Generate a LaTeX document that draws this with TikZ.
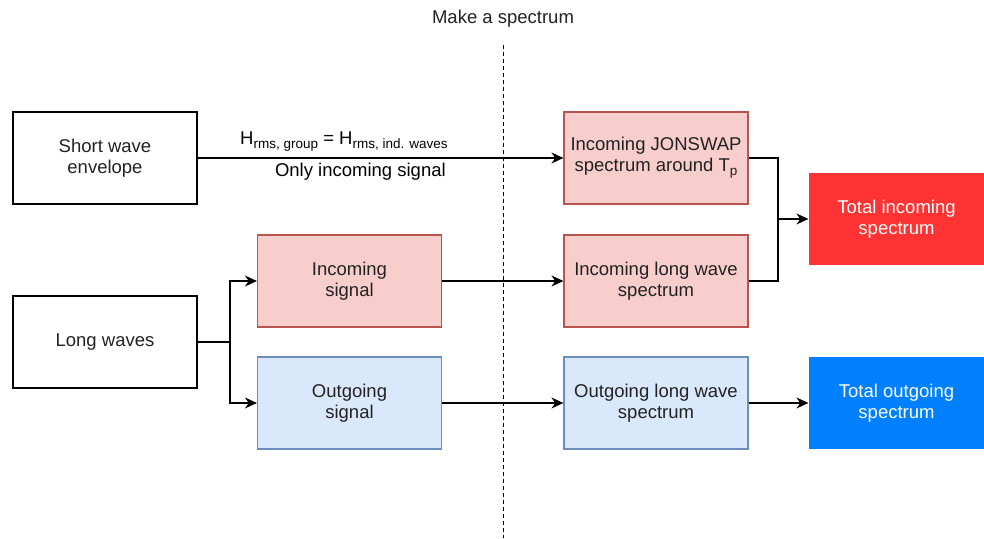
\documentclass[tikz,border=0pt]{standalone}
\usepackage{fontspec}
\setmainfont{Liberation Sans}
\usetikzlibrary{arrows.meta}
\definecolor{pinkfill}{HTML}{F8CECC}
\definecolor{pinkline}{HTML}{B85450}
\definecolor{bluefill}{HTML}{DAE8FC}
\definecolor{blueline}{HTML}{6C8EBF}
\definecolor{redbox}{HTML}{FF3333}
\definecolor{bluebox}{HTML}{007FFF}
\definecolor{txt}{HTML}{222222}
\newcommand{\mysub}[1]{\raisebox{-4pt}{\fontsize{13.5}{14}\selectfont #1}}
\begin{document}
\begin{tikzpicture}[x=1pt,y=-1pt,
  every node/.style={font=\fontsize{18.5}{21}\selectfont, text=txt},
  box/.style={draw=black, line width=1.2pt, minimum width=184pt, minimum height=92pt, align=center, inner sep=0pt},
  pinkbox/.style={box, draw=pinkline, fill=pinkfill},
  bluebox/.style={box, draw=blueline, fill=bluefill},
  totbox/.style={box, draw=none, minimum width=175pt, text=white},
  conn/.style={line width=1.3pt, -{Stealth[length=12pt,width=11pt]}},
  plain/.style={line width=1.3pt}]
\useasboundingbox (0,0) rectangle (984,538);
\fill[white] (0,0) rectangle (984,538);

\draw[dashed, line width=0.9pt, dash pattern=on 4pt off 3pt] (503,45) -- (503,538);
\node (title) at (503,19) {Make a spectrum};

\node[box] (sw) at (105,158) {Short wave\\envelope};
\node[box] (lw) at (105,342) {Long waves};
\node[pinkbox] (insig) at (349.5,281) {Incoming\\signal};
\node[bluebox] (outsig) at (349.5,403) {Outgoing\\signal};
\node[pinkbox] (jon) at (656,158) {Incoming JONSWAP\\spectrum around T\mysub{p}};
\node[pinkbox] (inlw) at (656,281) {Incoming long wave\\spectrum};
\node[bluebox] (outlw) at (656,403) {Outgoing long wave\\spectrum};
\node[totbox, fill=redbox] (totin) at (896.5,219) {Total incoming\\spectrum};
\node[totbox, fill=bluebox] (totout) at (896.5,403) {Total outgoing\\spectrum};

\draw[conn] (sw.east) -- (jon.west)
  node[pos=0.4, above=3pt, text=black] (lab1) {H\mysub{rms, group} = H\mysub{rms, ind. waves}}
  node[pos=0.445, below=1pt, text=black] (lab2) {Only incoming signal};

\coordinate (split) at (230,342);
\draw[plain] (lw.east) -- (split);
\draw[conn] (split) |- (insig.west);
\draw[conn] (split) |- (outsig.west);
\draw[conn] (insig.east) -- (inlw.west);
\draw[conn] (outsig.east) -- (outlw.west);

\coordinate (join) at (778,219);
\draw[plain] (jon.east) -| (join);
\draw[plain] (inlw.east) -| (join);
\draw[conn] (join) -- (totin.west);
\draw[conn] (outlw.east) -- (totout.west);
\end{tikzpicture}
\end{document}
